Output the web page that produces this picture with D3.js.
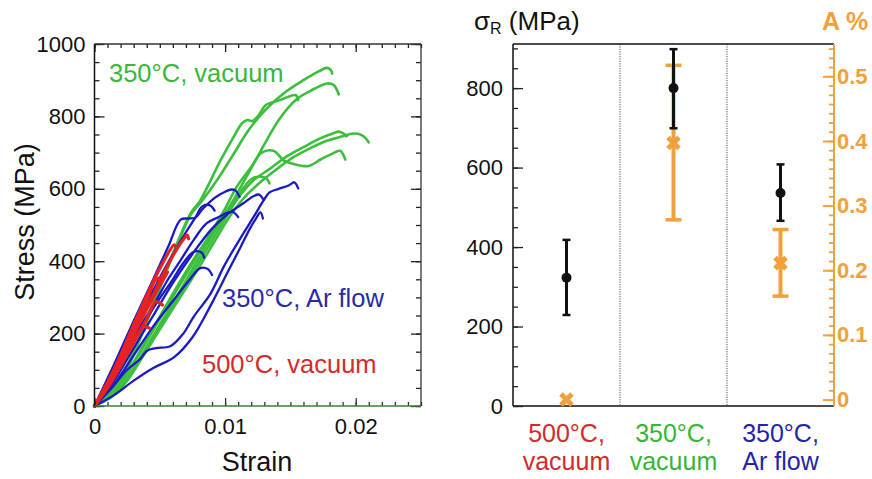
<!DOCTYPE html>
<html><head><meta charset="utf-8">
<script src="https://cdn.jsdelivr.net/npm/d3@7"></script>
<style>
html,body{margin:0;padding:0;background:#fff;}
svg{display:block;font-family:"Liberation Sans",Arial,sans-serif;}
</style></head>
<body><svg id="c" width="872" height="479"></svg>
<script>
// ---------- Left panel: stress-strain curves (strain, stress MPa) ----------
const gA = [[0,0],[0.001,30],[0.002,75],[0.0026,110],[0.004,232],[0.0055,370],[0.0065,460],[0.0074,530],[0.0082,565],[0.0094,625],[0.0106,693],[0.0119,767],[0.0132,822],[0.0145,864],[0.016,900],[0.0172,925],[0.0178,934],[0.0181,928],[0.0182,918]];
const gB = [[0,0],[0.0012,30],[0.0022,75],[0.0033,140],[0.0045,215],[0.006,310],[0.0075,400],[0.009,480],[0.0104,555],[0.0112,605],[0.0122,670],[0.0132,735],[0.0142,795],[0.0155,848],[0.0165,870],[0.0178,891],[0.0183,887],[0.0187,861]];
const gC = [[0,0],[0.001,32],[0.002,78],[0.003,150],[0.004,240],[0.0055,375],[0.0065,465],[0.0074,535],[0.0081,568],[0.0096,675],[0.0106,740],[0.0113,781],[0.0117,790],[0.0121,787],[0.0126,805],[0.0131,831],[0.0142,845],[0.0154,859],[0.0156,845]];
const gD = [[0,0],[0.0012,25],[0.0023,65],[0.0034,125],[0.0047,200],[0.006,275],[0.0074,360],[0.0088,445],[0.0098,505],[0.0109,570],[0.0122,624],[0.0135,657],[0.0147,689],[0.016,715],[0.0172,738],[0.0182,752],[0.0187,758],[0.0191,752],[0.0193,745]];
const gE = [[0,0],[0.0013,25],[0.0024,65],[0.0035,125],[0.0048,200],[0.0062,280],[0.0077,365],[0.0092,455],[0.0102,515],[0.0112,565],[0.0125,612],[0.0138,650],[0.015,682],[0.0163,708],[0.0176,730],[0.019,745],[0.0197,752],[0.0203,751],[0.0207,742],[0.021,728]];
const gF = [[0,0],[0.0011,28],[0.0022,72],[0.0032,130],[0.0045,210],[0.0058,290],[0.0072,375],[0.0087,465],[0.0100,545],[0.0109,606],[0.0120,660],[0.0128,700],[0.0137,705],[0.0145,678],[0.0151,670],[0.0164,663],[0.0173,681],[0.0181,695],[0.0188,705],[0.0192,681]];
const gH = [[0,0],[0.0012,26],[0.0024,70],[0.0036,140],[0.005,225],[0.0065,315],[0.008,410],[0.0095,500],[0.0108,570],[0.0121,629],[0.0131,630],[0.0134,615]];

const b1 = [[0,0],[0.0012,45],[0.0025,100],[0.0035,130],[0.004,152],[0.0047,160],[0.0058,165],[0.0068,200],[0.0076,247],[0.0089,311],[0.0099,385],[0.0112,465],[0.0122,523],[0.0129,565],[0.0134,590],[0.0141,600],[0.0149,610],[0.0153,618],[0.0156,601]];
const b2 = [[0,0],[0.0015,115],[0.003,235],[0.0045,350],[0.0057,445],[0.0066,515],[0.0072,518],[0.0077,520],[0.0083,545],[0.0092,575],[0.0100,592],[0.0105,598],[0.0108,595],[0.0111,578]];
const b3 = [[0,0],[0.0015,100],[0.003,210],[0.0045,320],[0.006,420],[0.007,480],[0.0078,525],[0.0082,550],[0.0088,555],[0.0092,540]];
const b4 = [[0,0],[0.00124,81],[0.0025,155],[0.0035,219],[0.0046,284],[0.0056,348],[0.0066,403],[0.0076,459],[0.0086,505],[0.0095,522],[0.0102,534],[0.0106,536],[0.0110,522]];
const b5 = [[0,0],[0.0015,30],[0.003,70],[0.0045,105],[0.0061,135],[0.0075,190],[0.009,285],[0.0102,370],[0.0112,440],[0.0119,490],[0.0124,520],[0.0127,535],[0.0129,518]];
const b6 = [[0,0],[0.0015,70],[0.003,160],[0.0045,250],[0.006,340],[0.0075,420],[0.009,490],[0.0102,530],[0.0114,560],[0.0122,580],[0.0126,584],[0.0129,572]];
const b7 = [[0,0],[0.0015,60],[0.003,140],[0.0045,220],[0.006,290],[0.0072,345],[0.0081,381],[0.0087,378],[0.009,362]];
const b8 = [[0,0],[0.0015,80],[0.003,175],[0.0045,270],[0.006,350],[0.0068,395],[0.0076,426],[0.0082,424],[0.0084,410]];

const r1 = [[0,0],[0.001,55],[0.002,120],[0.003,195],[0.004,270],[0.005,345],[0.006,415],[0.0068,460],[0.0071,472],[0.0072,462]];
const r2 = [[0,0],[0.001,65],[0.002,140],[0.003,225],[0.004,305],[0.005,380],[0.0061,445],[0.0062,440]];
const r3 = [[0,0],[0.001,60],[0.002,135],[0.003,215],[0.004,290],[0.0046,345],[0.0049,353],[0.005,345]];
const r4 = [[0,0],[0.001,50],[0.002,110],[0.003,175],[0.004,240],[0.0047,288],[0.0052,279]];
const r5 = [[0,0],[0.001,55],[0.002,120],[0.003,180],[0.0038,219],[0.0042,215]];
const r6 = [[0,0],[0.001,62],[0.002,130],[0.003,205],[0.0035,240]];
const r7 = [[0,0],[0.0015,95],[0.003,200],[0.0045,300],[0.0056,370]];

const greenCurves = [gA, gB, gC, gD, gE, gF, gH];
const blueCurves = [b1, b2, b3, b4, b5, b6, b7, b8];
const redCurves = [r1, r2, r3, r4, r5, r6, r7];

const stressTicks = [0, 200, 400, 600, 800, 1000];
const strainTicks = [0, 0.01, 0.02];
const strainTickLabels = ["0", "0.01", "0.02"];

// ---------- Right panel ----------
const categories = ["500°C, vacuum", "350°C, vacuum", "350°C, Ar flow"];
const catLine1 = ["500°C,", "350°C,", "350°C,"];
const catLine2 = ["vacuum", "vacuum", "Ar flow"];
const catColors = ["#d42a2a", "#36b536", "#2424a8"];
const sigmaMean = [323, 800, 536];
const sigmaLow = [229, 699, 466];
const sigmaHigh = [418, 898, 608];
const aMean = [0.0, 0.397, 0.211];
const aLow = [null, 0.278, 0.160];
const aHigh = [null, 0.517, 0.263];
const sigmaTicks = [0, 200, 400, 600, 800];
const aTicks = [0, 0.1, 0.2, 0.3, 0.4, 0.5];
const aTickLabels = ["0", "0.1", "0.2", "0.3", "0.4", "0.5"];

const GREEN = "#3cbf3c", BLUE = "#1a1ac4", RED = "#e62222", ORANGE = "#f0a13c";

const svg = d3.select("#c");

// ===== Left panel =====
const x1 = d3.scaleLinear().domain([0, 0.025]).range([94.5, 421]);
const y1 = d3.scaleLinear().domain([0, 1000]).range([406, 44]);
const L = svg.append("g");

const lineS = d3.line().x(d => x1(d[0])).y(d => y1(d[1])).curve(d3.curveCatmullRom.alpha(0.5));

L.append("g").selectAll("path").data(greenCurves).join("path")
  .attr("d", lineS).attr("fill", "none").attr("stroke", GREEN).attr("stroke-width", 2.6).attr("stroke-linejoin", "round").attr("stroke-linecap", "round");
L.append("g").selectAll("path").data(blueCurves).join("path")
  .attr("d", lineS).attr("fill", "none").attr("stroke", BLUE).attr("stroke-width", 2.3).attr("stroke-linejoin", "round").attr("stroke-linecap", "round");
L.append("g").selectAll("path").data(redCurves).join("path")
  .attr("d", lineS).attr("fill", "none").attr("stroke", RED).attr("stroke-width", 3.2).attr("stroke-linejoin", "round").attr("stroke-linecap", "round");

function styleAxis(g, color) {
  g.select(".domain").remove();
  g.selectAll(".tick line").attr("stroke", color || "#222").attr("stroke-width", 1.3);
}
const minorStress = d3.range(0, 1001, 50);
const minorStrain = d3.range(0, 0.02501, 0.001);

// left axis
L.append("g").attr("transform", "translate(94.5,0)")
  .call(d3.axisLeft(y1).tickValues(minorStress).tickSize(-5).tickFormat(""))
  .call(g => styleAxis(g));
L.append("g").attr("transform", "translate(94.5,0)")
  .call(d3.axisLeft(y1).tickValues(stressTicks).tickSize(-10).tickPadding(9).tickFormat(d3.format("d")))
  .call(g => styleAxis(g))
  .call(g => g.selectAll("text").attr("font-size", 22).attr("fill", "#111").attr("font-family", "Liberation Sans, Arial"));
// right side
L.append("g").attr("transform", "translate(421,0)")
  .call(d3.axisRight(y1).tickValues(minorStress).tickSize(-5).tickFormat(""))
  .call(g => styleAxis(g));
L.append("g").attr("transform", "translate(421,0)")
  .call(d3.axisRight(y1).tickValues(stressTicks).tickSize(-10).tickFormat(""))
  .call(g => styleAxis(g));
// bottom
L.append("g").attr("transform", "translate(0,406)")
  .call(d3.axisBottom(x1).tickValues(minorStrain).tickSize(-4).tickFormat(""))
  .call(g => styleAxis(g, "#333"));
L.append("g").attr("transform", "translate(0,406)")
  .call(d3.axisBottom(x1).tickValues(strainTicks).tickSize(-8).tickPadding(12).tickFormat((d, i) => strainTickLabels[i]))
  .call(g => styleAxis(g, "#333"))
  .call(g => g.selectAll("text").attr("font-size", 22).attr("fill", "#111").attr("font-family", "Liberation Sans, Arial"));
// top
L.append("g").attr("transform", "translate(0,44)")
  .call(d3.axisTop(x1).tickValues(minorStrain).tickSize(-4).tickFormat(""))
  .call(g => styleAxis(g));
L.append("g").attr("transform", "translate(0,44)")
  .call(d3.axisTop(x1).tickValues(strainTicks).tickSize(-8).tickFormat(""))
  .call(g => styleAxis(g));

// frame
L.append("line").attr("x1", 94.5).attr("x2", 94.5).attr("y1", 44).attr("y2", 406).attr("stroke", "#111").attr("stroke-width", 1.5);
L.append("line").attr("x1", 421).attr("x2", 421).attr("y1", 44).attr("y2", 406).attr("stroke", "#333").attr("stroke-width", 1.3);
L.append("line").attr("x1", 94.5).attr("x2", 421).attr("y1", 44).attr("y2", 44).attr("stroke", "#333").attr("stroke-width", 1.3);
L.append("line").attr("x1", 94.5).attr("x2", 421).attr("y1", 406).attr("y2", 406).attr("stroke", "#3d7d3d").attr("stroke-width", 1.6);

// annotations
L.append("text").attr("x", 109).attr("y", 81.5).attr("font-size", 25.5).attr("fill", "#38b838").text("350°C, vacuum");
L.append("text").attr("x", 222).attr("y", 306.5).attr("font-size", 25.5).attr("fill", "#2a2aa8").text("350°C, Ar flow");
L.append("text").attr("x", 202).attr("y", 373).attr("font-size", 25.5).attr("fill", "#d42a2a").text("500°C, vacuum");

// axis titles
L.append("text").attr("x", 257).attr("y", 471).attr("text-anchor", "middle").attr("font-size", 27).attr("fill", "#111").text("Strain");
L.append("text").attr("transform", "translate(34,222) rotate(-90)").attr("text-anchor", "middle").attr("font-size", 27).attr("fill", "#111").text("Stress (MPa)");

// ===== Right panel =====
const xb = d3.scaleBand().domain(categories).range([513, 834]);
const y2 = d3.scaleLinear().domain([0, 911]).range([406, 44]);
const yA = d3.scaleLinear().domain([-0.01, 0.55]).range([406, 44]);
const R = svg.append("g");

// dividers
R.append("g").selectAll("line").data(categories.slice(1)).join("line")
  .attr("x1", d => xb(d)).attr("x2", d => xb(d)).attr("y1", 44).attr("y2", 406)
  .attr("stroke", "#555").attr("stroke-width", 1).attr("stroke-dasharray", "1.2,1.2");

// frame lines
R.append("line").attr("x1", 513).attr("x2", 834).attr("y1", 44).attr("y2", 44).attr("stroke", "#111").attr("stroke-width", 1.4);
R.append("line").attr("x1", 513).attr("x2", 834).attr("y1", 406).attr("y2", 406).attr("stroke", "#111").attr("stroke-width", 1.6);
R.append("line").attr("x1", 513).attr("x2", 513).attr("y1", 44).attr("y2", 406).attr("stroke", "#111").attr("stroke-width", 1.5);
R.append("line").attr("x1", 834).attr("x2", 834).attr("y1", 44).attr("y2", 406).attr("stroke", ORANGE).attr("stroke-width", 2);

// left axis
R.append("g").attr("transform", "translate(513,0)")
  .call(d3.axisLeft(y2).tickValues(d3.range(0, 901, 50)).tickSize(-5).tickFormat(""))
  .call(g => styleAxis(g));
R.append("g").attr("transform", "translate(513,0)")
  .call(d3.axisLeft(y2).tickValues(sigmaTicks).tickSize(-10).tickPadding(10).tickFormat(d3.format("d")))
  .call(g => styleAxis(g))
  .call(g => g.selectAll("text").attr("font-size", 22).attr("fill", "#111").attr("font-family", "Liberation Sans, Arial"));
// right axis (A %)
R.append("g").attr("transform", "translate(834,0)")
  .call(d3.axisRight(yA).tickValues(d3.range(0, 0.5501, 0.1 / 7)).tickSize(-5).tickFormat(""))
  .call(g => styleAxis(g, ORANGE))
  .call(g => g.selectAll(".tick line").attr("stroke-width", 1.8));
R.append("g").attr("transform", "translate(834,0)")
  .call(d3.axisRight(yA).tickValues(aTicks).tickSize(-11).tickPadding(3).tickFormat((d, i) => aTickLabels[i]))
  .call(g => styleAxis(g, ORANGE))
  .call(g => g.selectAll(".tick line").attr("stroke-width", 2))
  .call(g => g.selectAll("text").attr("font-size", 22).attr("font-weight", "bold").attr("fill", ORANGE).attr("font-family", "Liberation Sans, Arial"));

// A% error bars and markers
const cx = i => xb(categories[i]) + xb.bandwidth() / 2;
const aIdx = d3.range(categories.length).filter(i => aLow[i] !== null);
R.append("g").selectAll("line").data(aIdx).join("line")
  .attr("x1", cx).attr("x2", cx).attr("y1", i => yA(aLow[i])).attr("y2", i => yA(aHigh[i]))
  .attr("stroke", ORANGE).attr("stroke-width", 4);
[aLow, aHigh].forEach(arr => {
  R.append("g").selectAll("line").data(aIdx).join("line")
    .attr("x1", i => cx(i) - 8).attr("x2", i => cx(i) + 8)
    .attr("y1", i => yA(arr[i])).attr("y2", i => yA(arr[i]))
    .attr("stroke", ORANGE).attr("stroke-width", 3.5);
});
R.append("g").selectAll("path").data(d3.range(categories.length)).join("path")
  .attr("transform", i => `translate(${cx(i)},${yA(aMean[i])})`)
  .attr("d", "M-5.5,-5.5L5.5,5.5M-5.5,5.5L5.5,-5.5")
  .attr("stroke", ORANGE).attr("stroke-width", 5).attr("fill", "none");

// sigma error bars
const sIdx = d3.range(categories.length);
R.append("g").selectAll("line").data(sIdx).join("line")
  .attr("x1", cx).attr("x2", cx).attr("y1", i => y2(sigmaLow[i])).attr("y2", i => y2(sigmaHigh[i]))
  .attr("stroke", "#111").attr("stroke-width", 3);
[sigmaLow, sigmaHigh].forEach(arr => {
  R.append("g").selectAll("line").data(sIdx).join("line")
    .attr("x1", i => cx(i) - 4).attr("x2", i => cx(i) + 4)
    .attr("y1", i => y2(arr[i])).attr("y2", i => y2(arr[i]))
    .attr("stroke", "#111").attr("stroke-width", 2.5);
});
R.append("g").selectAll("circle").data(sIdx).join("circle")
  .attr("cx", cx).attr("cy", i => y2(sigmaMean[i])).attr("r", 5).attr("fill", "#111");

// category labels
R.append("g").selectAll("text").data(sIdx).join("text")
  .attr("x", cx).attr("y", 442).attr("text-anchor", "middle").attr("font-size", 25)
  .attr("fill", i => catColors[i]).text(i => catLine1[i]);
R.append("g").selectAll("text").data(sIdx).join("text")
  .attr("x", cx).attr("y", 470).attr("text-anchor", "middle").attr("font-size", 25)
  .attr("fill", i => catColors[i]).text(i => catLine2[i]);

// titles
const t = R.append("text").attr("x", 474).attr("y", 30).attr("font-size", 26).attr("fill", "#111");
t.append("tspan").text("σ");
t.append("tspan").attr("font-size", 16).attr("dy", 4).text("R");
t.append("tspan").attr("dy", -4).text(" (MPa)");
R.append("text").attr("x", 822).attr("y", 30).attr("font-size", 25).attr("font-weight", "bold").attr("fill", ORANGE).text("A %");
</script></body></html>
